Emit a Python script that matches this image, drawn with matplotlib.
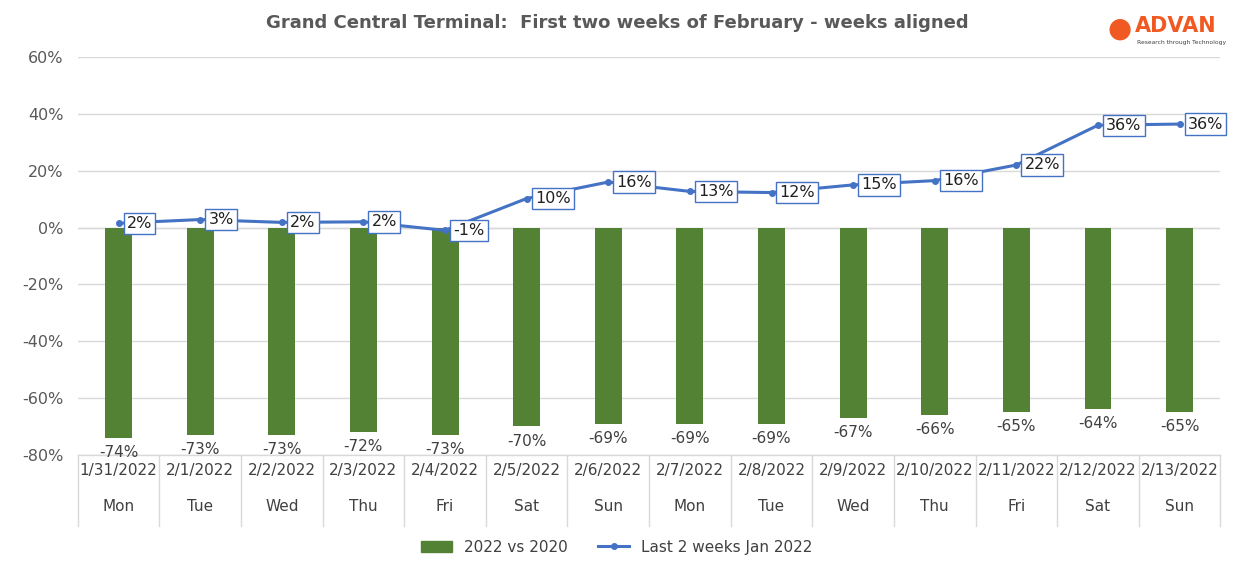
import matplotlib
matplotlib.use('Agg')
import matplotlib.pyplot as plt
from matplotlib.lines import Line2D

dates = ["1/31/2022", "2/1/2022", "2/2/2022", "2/3/2022", "2/4/2022", "2/5/2022", "2/6/2022",
         "2/7/2022", "2/8/2022", "2/9/2022", "2/10/2022", "2/11/2022", "2/12/2022", "2/13/2022"]
days = ["Mon", "Tue", "Wed", "Thu", "Fri", "Sat", "Sun", "Mon", "Tue", "Wed", "Thu", "Fri", "Sat", "Sun"]
vs2020 = [-74, -73, -73, -72, -73, -70, -69, -69, -69, -67, -66, -65, -64, -65]
last2weeks = [1.5, 2.8, 1.8, 2.0, -1.0, 10.2, 16.0, 12.7, 12.3, 15.0, 16.5, 22.0, 36.0, 36.4]
line_labels = ["2%", "3%", "2%", "2%", "-1%", "10%", "16%", "13%", "12%", "15%", "16%", "22%", "36%", "36%"]

green = "#548235"
blue = "#4472C4"
fig = plt.figure(figsize=(12.34, 5.7), dpi=100)
ax = fig.add_axes([0.063, 0.202, 0.926, 0.698])
x = list(range(len(dates)))

ax.bar(x, vs2020, width=0.33, color=green, zorder=2)
ax.plot(x, last2weeks, color=blue, lw=2.2, marker='o', ms=4, zorder=3)

for i, v in enumerate(vs2020):
    ax.text(i, v - 2.5, "%d%%" % v, ha='center', va='top', fontsize=11, color='#404040')
for i, (v, lab) in enumerate(zip(last2weeks, line_labels)):
    ax.text(i + 0.1, v, lab, ha='left', va='center', fontsize=11.5, color='#202020', zorder=4,
            bbox=dict(boxstyle='square,pad=0.2', fc='white', ec=blue, lw=1))

ax.set_xlim(-0.5, len(dates) - 0.5)
ax.set_ylim(-80, 60)
ax.set_yticks(range(-80, 61, 20))
ax.set_yticklabels(["%d%%" % t for t in range(-80, 61, 20)], fontsize=11.5, color='#595959')
ax.yaxis.grid(True, color='#d9d9d9', lw=1, zorder=0)
ax.set_axisbelow(True)
ax.tick_params(axis='y', length=0, pad=10)
ax.set_xticks([])
for s in ax.spines.values():
    s.set_visible(False)
ax.axhline(0, color='#d9d9d9', lw=1, zorder=1)

# two-level category axis
for i in x:
    ax.text(i, -85.5, dates[i], ha='center', va='center', fontsize=11, color='#404040', clip_on=False)
    ax.text(i, -98, days[i], ha='center', va='center', fontsize=11, color='#404040', clip_on=False)
for i in range(len(dates) + 1):
    ax.add_line(Line2D([i - 0.5, i - 0.5], [-80, -105], color='#d9d9d9', lw=1, clip_on=False))
ax.add_line(Line2D([-0.5, len(dates) - 0.5], [-80, -80], color='#d9d9d9', lw=1, clip_on=False))

fig.text(0.5, 0.96, "Grand Central Terminal:  First two weeks of February - weeks aligned",
         ha='center', va='center', fontsize=13, fontweight='bold', color='#595959')
fig.text(0.920, 0.955, "ADVAN", ha='left', va='center', fontsize=15, color='#f05a22', fontweight='bold')
fig.text(0.921, 0.925, "Research through Technology", ha='left', va='center', fontsize=4.3, color='#404040')
fig.text(0.907, 0.95, "\u25CF", ha='center', va='center', fontsize=20, color='#f05a22')

handles = [plt.Rectangle((0, 0), 1, 1, color=green),
           Line2D([], [], color=blue, lw=2.2, marker='o', ms=4)]
fig.legend(handles, ["2022 vs 2020", "Last 2 weeks Jan 2022"], loc='center', ncol=2,
           bbox_to_anchor=(0.5, 0.04), frameon=False, fontsize=11, labelcolor='#404040')

fig.savefig("out.png", dpi=100)
